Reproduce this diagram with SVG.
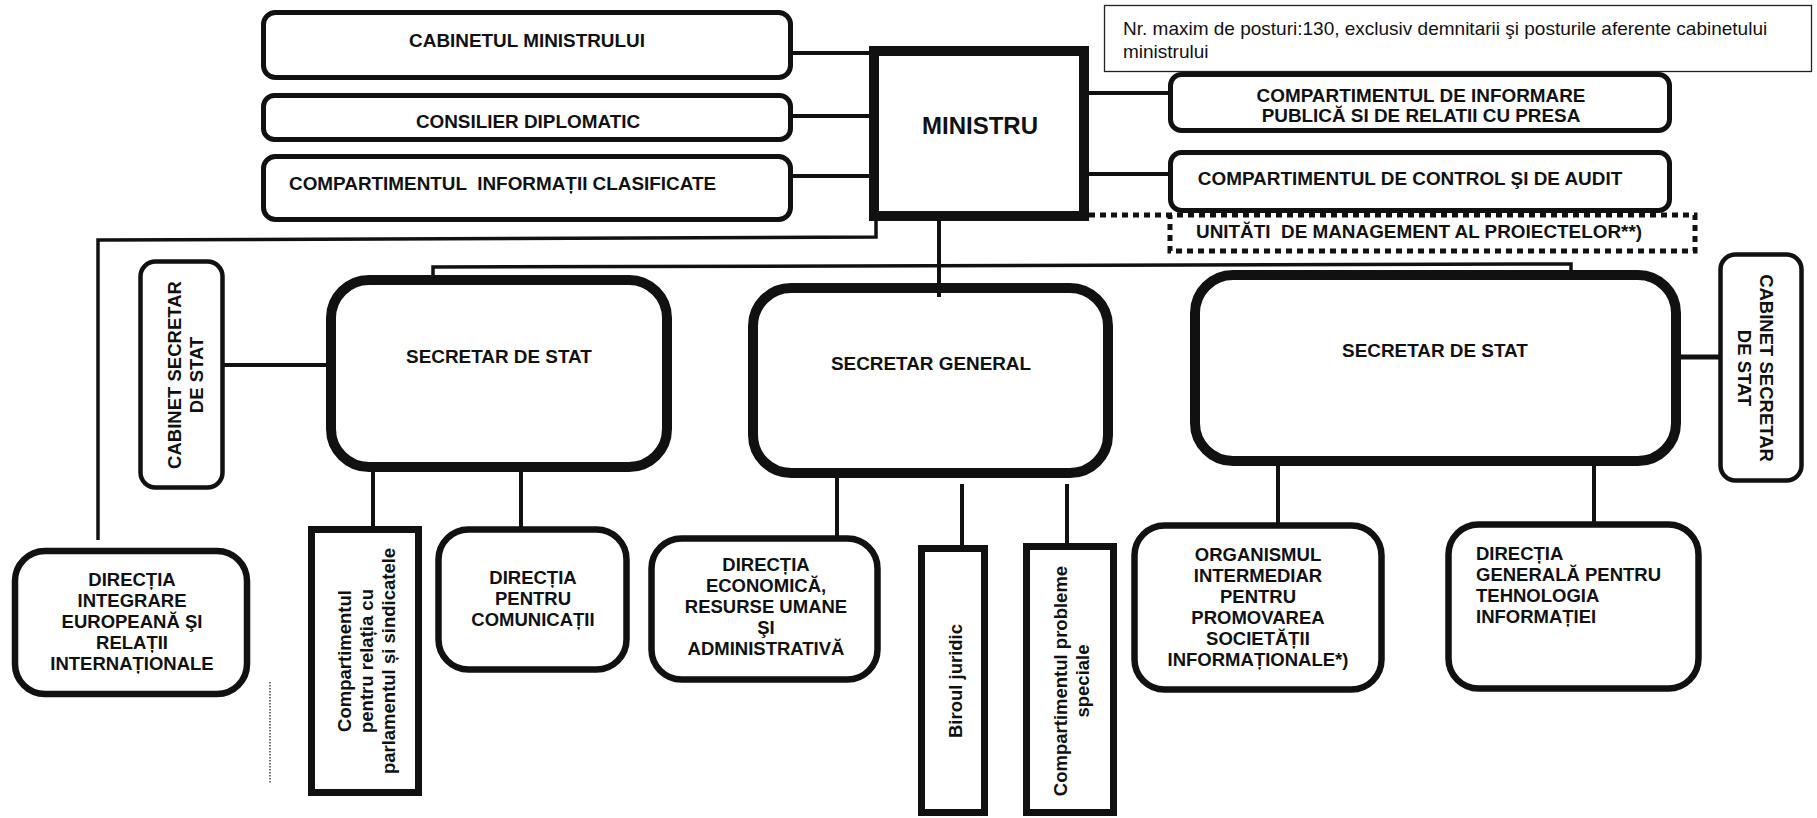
<svg xmlns="http://www.w3.org/2000/svg" width="1817" height="818" viewBox="0 0 1817 818">
<style>
.bg{fill:#fff}
.box{fill:#fff;stroke:#111}
.s4{stroke-width:4.5}
.s5{stroke-width:5}
.s6{stroke-width:6.5}
.s7{stroke-width:7}
.s10{stroke-width:10}
.conn{stroke:#111;stroke-width:4;fill:none}
.t{font-family:"Liberation Sans",Arial,sans-serif;font-weight:bold;font-size:18.5px;fill:#111}
.u{font-size:18.9px}
.m{text-anchor:middle}
.n{font-family:"Liberation Sans",Arial,sans-serif;font-size:19px;fill:#111}
.pre{white-space:pre}
</style>
<rect class="bg" x="0" y="0" width="1817" height="818"/>

<g id="cabinetul-ministrului">
  <rect class="box s5" x="263.5" y="12.5" width="527" height="65" rx="12"/>
  <text class="t u m" x="527" y="47">CABINETUL MINISTRULUI</text>
</g>
<g id="consilier-diplomatic">
  <rect class="box s5" x="263.5" y="95.5" width="527" height="44" rx="11"/>
  <text class="t u m" x="528" y="127.5">CONSILIER DIPLOMATIC</text>
</g>
<g id="compartimentul-informatii-clasificate">
  <rect class="box s5" x="263.5" y="156.5" width="527" height="63" rx="12"/>
  <text class="t u pre" x="289" y="189.5">COMPARTIMENTUL  INFORMAȚII CLASIFICATE</text>
</g>

<g id="ministru">
  <rect class="box s10" x="874" y="51" width="210" height="165"/>
  <text class="t m" style="font-size:24px" x="980" y="134">MINISTRU</text>
</g>

<g id="nota">
  <rect x="1104.5" y="5.5" width="707" height="66" fill="#fff" stroke="#222" stroke-width="1.3"/>
  <text class="n" x="1123" y="35">Nr. maxim de posturi:130, exclusiv demnitarii şi posturile aferente cabinetului</text>
  <text class="n" x="1123" y="58">ministrului</text>
</g>

<g id="compartimentul-informare">
  <rect class="box s5" x="1170.5" y="74.5" width="499" height="56" rx="11"/>
  <text class="t u m" x="1421" y="102">COMPARTIMENTUL DE INFORMARE</text>
  <text class="t u m" x="1421" y="122">PUBLICĂ SI DE RELATII CU PRESA</text>
</g>
<g id="compartimentul-control-audit">
  <rect class="box s5" x="1170.5" y="152.5" width="499" height="58" rx="11"/>
  <text class="t u m" x="1410" y="185">COMPARTIMENTUL DE CONTROL ŞI DE AUDIT</text>
</g>
<g id="unitati-management">
  <path d="M1089,215 H1695 V251 H1170 V215" fill="none" stroke="#111" stroke-width="5" stroke-dasharray="6 5"/>
  <text class="t u pre" x="1196" y="238">UNITĂTI  DE MANAGEMENT AL PROIECTELOR**)</text>
</g>

<g id="cabinet-secretar-stat-stanga">
  <rect class="box s4" x="140.5" y="261.5" width="82" height="226" rx="15"/>
  <text class="t m" transform="translate(181,375) rotate(-90)">CABINET SECRETAR</text>
  <text class="t m" transform="translate(203,375) rotate(-90)">DE STAT</text>
</g>
<g id="secretar-stat-stanga">
  <rect class="box s10" x="331" y="280" width="336" height="187" rx="38"/>
  <text class="t u m" x="499" y="363">SECRETAR DE STAT</text>
</g>
<g id="secretar-general">
  <rect class="box s10" x="753" y="288" width="355" height="185" rx="38"/>
  <text class="t u m" x="931" y="370">SECRETAR GENERAL</text>
</g>
<g id="secretar-stat-dreapta">
  <rect class="box s10" x="1195" y="275" width="481" height="186" rx="38"/>
  <text class="t u m" x="1435" y="357">SECRETAR DE STAT</text>
</g>
<g id="cabinet-secretar-stat-dreapta">
  <rect class="box s4" x="1720.5" y="254.5" width="81" height="226" rx="15"/>
  <text class="t m" transform="translate(1760,368) rotate(90)">CABINET SECRETAR</text>
  <text class="t m" transform="translate(1738,368) rotate(90)">DE STAT</text>
</g>

<g id="directia-integrare-europeana">
  <rect class="box s6" x="15" y="551" width="232" height="143" rx="30"/>
  <text class="t m" x="132" y="586">DIRECȚIA</text>
  <text class="t m" x="132" y="607">INTEGRARE</text>
  <text class="t m" x="132" y="628">EUROPEANĂ ŞI</text>
  <text class="t m" x="132" y="649">RELAȚII</text>
  <text class="t m" x="132" y="670">INTERNAȚIONALE</text>
</g>
<g id="compartimentul-relatia-parlamentul">
  <rect class="box s7" x="311.5" y="529.5" width="107" height="263"/>
  <text class="t m" transform="translate(351,661) rotate(-90)">Compartimentul</text>
  <text class="t m" transform="translate(373,661) rotate(-90)">pentru relația cu</text>
  <text class="t m" transform="translate(395,661) rotate(-90)">parlamentul și sindicatele</text>
</g>
<g id="directia-comunicatii">
  <rect class="box s6" x="438.5" y="529.5" width="188" height="140" rx="30"/>
  <text class="t m" x="533" y="584">DIRECȚIA</text>
  <text class="t m" x="533" y="605">PENTRU</text>
  <text class="t m" x="533" y="626">COMUNICAȚII</text>
</g>
<g id="directia-economica">
  <rect class="box s6" x="651.5" y="538.5" width="226" height="141" rx="30"/>
  <text class="t m" x="766" y="571">DIRECȚIA</text>
  <text class="t m" x="766" y="592">ECONOMICĂ,</text>
  <text class="t m" x="766" y="613">RESURSE UMANE</text>
  <text class="t m" x="766" y="634">ŞI</text>
  <text class="t m" x="766" y="655">ADMINISTRATIVĂ</text>
</g>
<g id="biroul-juridic">
  <rect class="box s7" x="921.5" y="548.5" width="63" height="264"/>
  <text class="t m" transform="translate(962,681) rotate(-90)">Biroul juridic</text>
</g>
<g id="compartimentul-probleme-speciale">
  <rect class="box s7" x="1026.5" y="546.5" width="87" height="266"/>
  <text class="t m" transform="translate(1067,681) rotate(-90)">Compartimentul probleme</text>
  <text class="t m" transform="translate(1089,681) rotate(-90)">speciale</text>
</g>
<g id="organismul-intermediar">
  <rect class="box s6" x="1134.5" y="525.5" width="247" height="164" rx="30"/>
  <text class="t m" x="1258" y="561">ORGANISMUL</text>
  <text class="t m" x="1258" y="582">INTERMEDIAR</text>
  <text class="t m" x="1258" y="603">PENTRU</text>
  <text class="t m" x="1258" y="624">PROMOVAREA</text>
  <text class="t m" x="1258" y="645">SOCIETĂȚII</text>
  <text class="t m" x="1258" y="666">INFORMAȚIONALE*)</text>
</g>
<g id="directia-tehnologia-informatiei">
  <rect class="box s6" x="1448.5" y="524.5" width="250" height="164" rx="30"/>
  <text class="t" x="1476" y="560">DIRECȚIA</text>
  <text class="t" x="1476" y="581">GENERALĂ PENTRU</text>
  <text class="t" x="1476" y="602">TEHNOLOGIA</text>
  <text class="t" x="1476" y="623">INFORMAȚIEI</text>
</g>

<g id="connectors">
  <line class="conn" x1="791" y1="53" x2="872" y2="53"/>
  <line class="conn" x1="791" y1="116" x2="872" y2="116"/>
  <line class="conn" x1="791" y1="176" x2="872" y2="176"/>
  <line class="conn" x1="1086" y1="93" x2="1170" y2="93"/>
  <line class="conn" x1="1086" y1="174" x2="1170" y2="174"/>
  <polyline class="conn" style="stroke-width:3.5" points="876,218 876,237 98,240 98,540"/>
  <line class="conn" x1="939" y1="218" x2="939" y2="297"/>
  <polyline class="conn" style="stroke-width:3.5" points="433,281 433,267 1571,264 1571,273"/>
  <line class="conn" x1="223" y1="365" x2="328" y2="365"/>
  <line class="conn" style="stroke-width:5" x1="1678" y1="357" x2="1720" y2="357"/>
  <line class="conn" x1="373" y1="470" x2="373" y2="527"/>
  <line class="conn" x1="521" y1="470" x2="521" y2="527"/>
  <line class="conn" x1="837" y1="476" x2="837" y2="536"/>
  <line class="conn" x1="962" y1="484" x2="962" y2="546"/>
  <line class="conn" x1="1067" y1="484" x2="1067" y2="544"/>
  <line class="conn" x1="1278" y1="464" x2="1278" y2="523"/>
  <line class="conn" x1="1594" y1="464" x2="1594" y2="522"/>
  <line x1="270" y1="682" x2="270" y2="783" stroke="#444" stroke-width="1.5" stroke-dasharray="1.5 1.5"/>
</g>
</svg>
